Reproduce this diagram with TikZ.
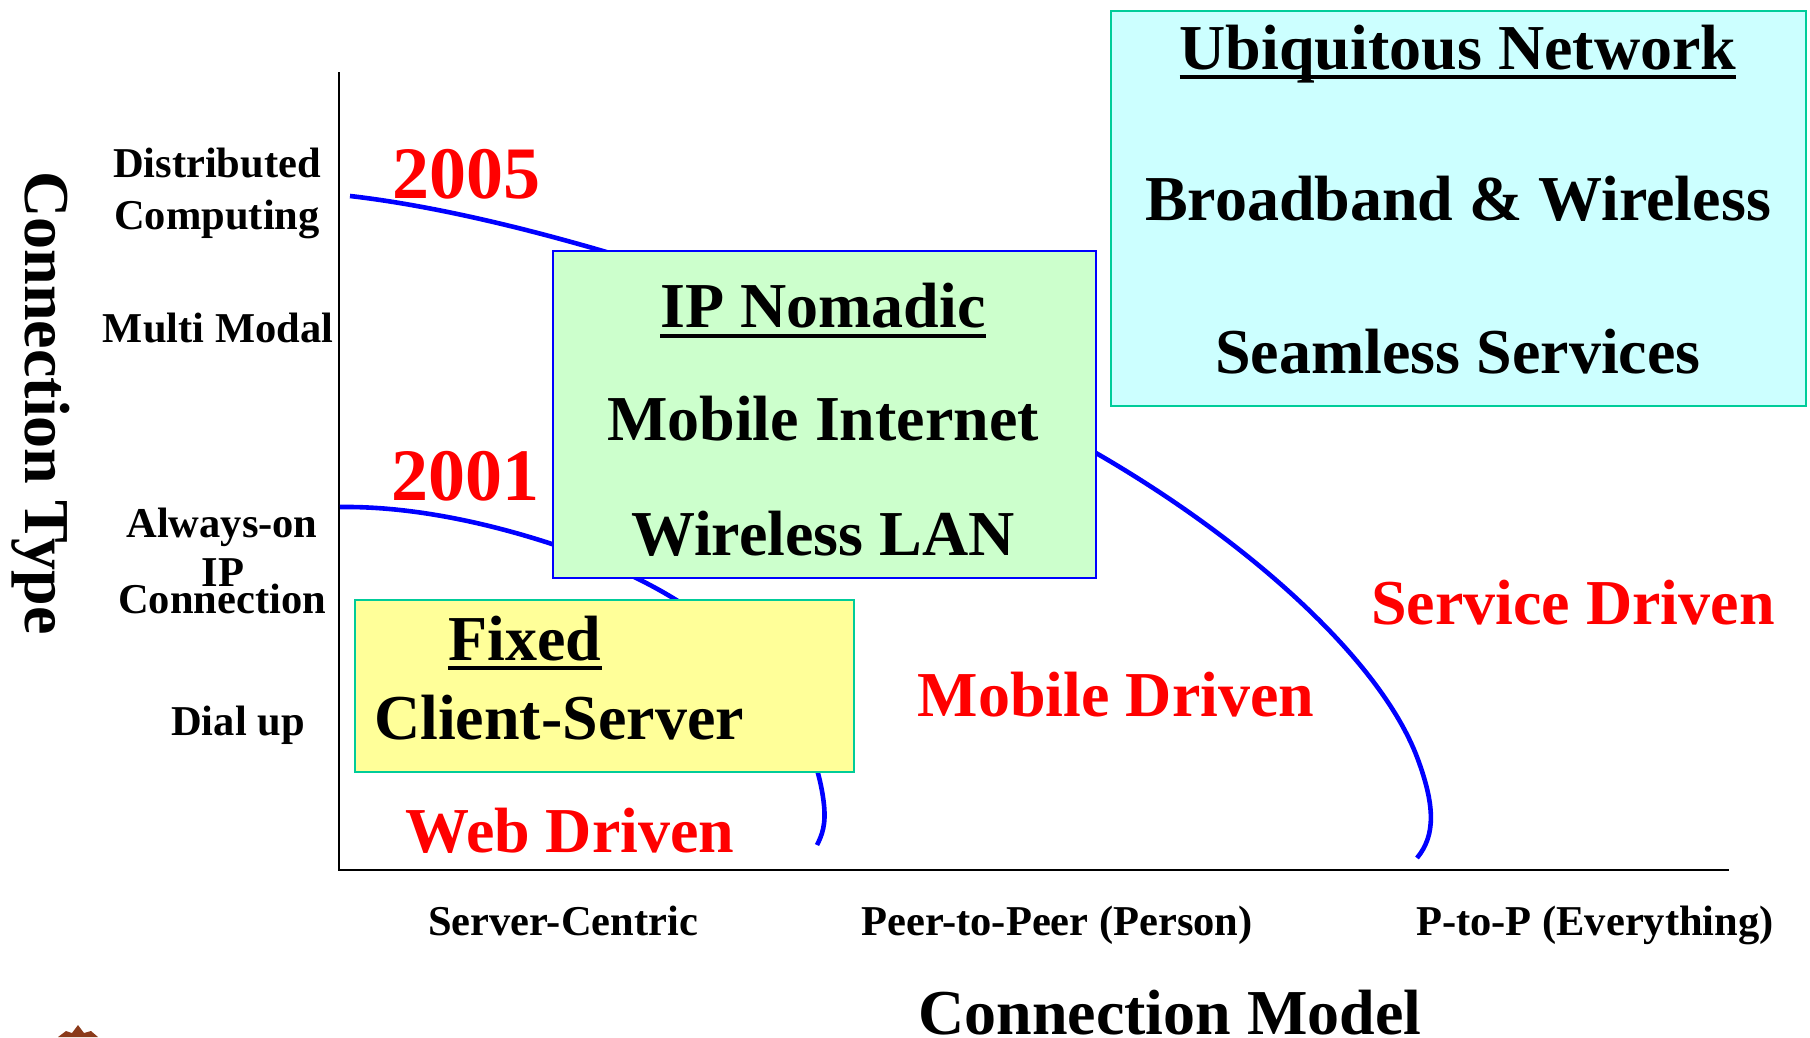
\documentclass[tikz,border=0pt]{standalone}
\usepackage{fontspec}
\setmainfont{Liberation Serif}
\definecolor{ipfill}{HTML}{CCFFCC}
\definecolor{ubfill}{HTML}{CCFFFF}
\definecolor{fxfill}{HTML}{FFFF99}
\definecolor{tealedge}{HTML}{00CC99}
\definecolor{logobrown}{HTML}{8B3A1A}
\begin{document}
\begin{tikzpicture}[x=1pt,y=-1pt,
  bluecurve/.style={draw=blue, line width=4.6pt},
  axis/.style={draw=black, line width=2.6pt},
  boxshape/.style={inner sep=0pt, line width=1.6pt, anchor=north west},
  txt/.style={inner sep=0pt, anchor=base, font=\bfseries},
  small/.style={txt, font=\fontsize{42.5}{48}\selectfont\bfseries},
  big/.style={txt, font=\fontsize{64}{70}\selectfont\bfseries},
  year/.style={txt, text=red, font=\fontsize{74}{80}\selectfont\bfseries},
  drv/.style={big, text=red},
  uline/.style={draw=black, line width=4pt}]
\useasboundingbox (0,0) rectangle (1810,1037);

% axes
\coordinate (ytop) at (339,72);
\coordinate (orig) at (339,870);
\coordinate (xend) at (1729,870);
\draw[axis] (ytop) -- (orig) -- (xend);

% era boundaries
\coordinate (a0) at (350,196);
\coordinate (a1) at (1096,453);
\coordinate (a2) at (1417,757);
\coordinate (a3) at (1417,858);
\draw[bluecurve] (a0) .. controls (560,220) and (900,340) .. (a1)
  .. controls (1250,542) and (1380,660) .. (a2)
  .. controls (1435,805) and (1436,835) .. (a3);
\coordinate (b0) at (340,507);
\coordinate (b1) at (552,544);
\coordinate (b2) at (673,598);
\coordinate (b3) at (824,805);
\coordinate (b4) at (817,845);
\draw[bluecurve] (b0) .. controls (420,506) and (500,527) .. (b1)
  .. controls (600,560) and (640,578) .. (b2)
  .. controls (750,645) and (815,720) .. (b3)
  .. controls (826,825) and (822,835) .. (b4);

% boxes
\node[boxshape, draw=blue, fill=ipfill, minimum width=543pt, minimum height=327pt] (ipbox) at (552,250) {};
\node[boxshape, draw=tealedge, fill=ubfill, minimum width=695pt, minimum height=395pt] (ubbox) at (1110,10) {};
\node[boxshape, draw=tealedge, fill=fxfill, minimum width=499pt, minimum height=172pt] (fxbox) at (354,599) {};

% IP Nomadic box text
\node[big] (ipt) at (823,327) {IP Nomadic};
\draw[uline] ([yshift=-9pt]ipt.base west) -- ([yshift=-9pt]ipt.base east);
\node[big] (mob) at (823,440) {Mobile Internet};
\node[big] (wlan) at (823,555) {Wireless LAN};

% Ubiquitous box text
\node[big] (ubt) at (1458,69) {Ubiquitous Network};
\draw[uline] ([yshift=-8pt]ubt.base west) -- ([yshift=-8pt]ubt.base east);
\node[big] (bbw) at (1458,220) {Broadband \& Wireless};
\node[big] (sms) at (1458,373) {Seamless Services};

% Fixed box text
\node[big] (fxt) at (525,660) {Fixed};
\draw[uline] ([yshift=-8pt]fxt.base west) -- ([yshift=-8pt]fxt.base east);
\node[big] (cls) at (559,739) {Client-Server};

% region labels
\node[drv] (web) at (570,852) {Web Driven};
\node[drv] (mobd) at (1116,716) {Mobile Driven};
\node[drv] (serv) at (1573,624) {Service Driven};

% years
\node[year] (y05) at (466,198) {2005};
\node[year] (y01) at (465,500) {2001};

% vertical axis labels
\node[small] (dist) at (217,177) {Distributed};
\node[small] (comp) at (217,229) {Computing};
\node[small] (mm) at (218,342) {Multi Modal};
\node[small] (aon) at (222,537) {Always-on};
\node[small] (ipl) at (223,586) {IP};
\node[small] (conn) at (222,613) {Connection};
\node[small] (dial) at (238,735) {Dial up};

% horizontal axis labels
\node[small] (sc) at (563,935) {Server-Centric};
\node[small] (p2p) at (1057,935) {Peer-to-Peer (Person)};
\node[small] (pte) at (1595,935) {P-to-P (Everything)};

% axis titles
\node[big] (xt) at (1170,1034) {Connection Model};
\node[big, rotate=-90] (yt) at (25,403) {Connection Type};

% logo fragment at the lower edge
\fill[logobrown] (58,1037) -- (66,1031) -- (72,1033) -- (78,1025) -- (84,1033) -- (91,1031) -- (98,1037) -- cycle;
\end{tikzpicture}
\end{document}
